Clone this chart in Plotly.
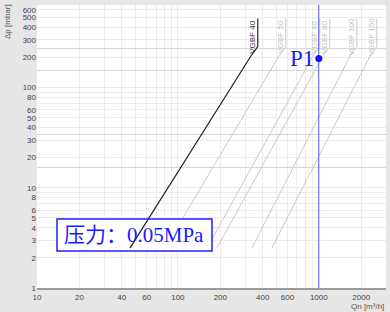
import math
import plotly.graph_objects as go

# ---- data ----
x_grid = [10, 20, 30, 40, 50, 60, 70, 80, 90, 100, 200, 300, 400, 500, 600, 700, 800, 900, 1000, 2000, 3000]
x_labels = [10, 20, 40, 60, 100, 200, 400, 600, 1000, 2000]
y_grid = [1, 2, 3, 4, 5, 6, 7, 8, 9, 10, 20, 30, 40, 50, 60, 70, 80, 90, 100, 200, 300, 400, 500, 600]
y_labels = [1, 2, 3, 4, 5, 6, 8, 10, 20, 30, 40, 50, 60, 80, 100, 200, 300, 400, 500, 600]
extra_h_lines = [245, 148, 34, 16]

models = ["VGBF 50", "VGBF 65", "VGBF 80", "VGBF 100", "VGBF 150", "VGBF 40"]
curve_q = [
    [81, 529, 583, 583],
    [161, 922, 1016, 1016],
    [189, 1085, 1197, 1197],
    [335, 1688, 1862, 1862],
    [464, 2339, 2577, 2577],
    [45.7, 335, 369, 369],
]
curve_dp = [2.5, 214, 257, 490]
label_dp = 320

p1_q = 1000
p1_dp = 195
box_text = "压力：0.05MPa"

X_RANGE = [1, math.log10(3000)]
Y_RANGE = [0, 2.825]
BOX = dict(x0=0.0573, x1=0.5014, y0=0.1307, y1=0.2438)  # paper fractions


def paper2data(fx, fy):
    return (10 ** (X_RANGE[0] + fx * (X_RANGE[1] - X_RANGE[0])),
            10 ** (Y_RANGE[0] + fy * (Y_RANGE[1] - Y_RANGE[0])))


# ---- figure ----
fig = go.Figure()

for v in extra_h_lines:
    fig.add_trace(go.Scatter(x=[10, 3000], y=[v, v], mode="lines",
                             line=dict(color="#d2d2d2", width=1),
                             hoverinfo="skip", showlegend=False))


def add_curve(name, q):
    black = name == "VGBF 40"
    fig.add_trace(go.Scatter(x=q, y=curve_dp, mode="lines",
                             line=dict(color="#222222" if black else "#cacaca",
                                       width=1.2 if black else 1),
                             showlegend=False, name=name))
    fig.add_annotation(x=math.log10(q[-1]), y=math.log10(label_dp), xref="x", yref="y",
                       text=name, textangle=-90, showarrow=False, xshift=-6,
                       xanchor="center", yanchor="middle",
                       font=dict(family="Liberation Sans, Arial", size=8,
                                 color="#333333" if black else "#c4c4c4"))


# grey size curves (drawn beneath the pressure box)
for name, q in zip(models, curve_q):
    if name != "VGBF 40":
        add_curve(name, q)

# white background of the pressure box
bx0, by0 = paper2data(BOX["x0"], BOX["y0"])
bx1, by1 = paper2data(BOX["x1"], BOX["y1"])
fig.add_trace(go.Scatter(x=[bx0, bx1, bx1, bx0, bx0], y=[by0, by0, by1, by1, by0], mode="lines",
                         fill="toself", fillcolor="white", line=dict(width=0, color="white"),
                         hoverinfo="skip", showlegend=False))

# selected size curve on top
for name, q in zip(models, curve_q):
    if name == "VGBF 40":
        add_curve(name, q)

# vertical operating line at Qn = 1000
fig.add_trace(go.Scatter(x=[p1_q, p1_q], y=[1, 700], mode="lines",
                         line=dict(color="#5a5ae6", width=1), showlegend=False))
fig.add_trace(go.Scatter(x=[p1_q], y=[p1_dp], mode="markers",
                         marker=dict(color="#1010ff", size=7), showlegend=False))
fig.add_annotation(x=math.log10(p1_q), y=math.log10(p1_dp), text="P1", showarrow=False,
                   xanchor="right", yanchor="middle", xshift=-3,
                   font=dict(family="Liberation Serif, Times New Roman", size=23, color="#1a1aff"))

# pressure box border + text
fig.add_shape(type="rect", xref="paper", yref="paper", **BOX,
              line=dict(color="#2020ff", width=1.5), fillcolor="rgba(0,0,0,0)", layer="above")
fig.add_annotation(x=(BOX["x0"] + BOX["x1"]) / 2, y=(BOX["y0"] + BOX["y1"]) / 2,
                   xref="paper", yref="paper", text=box_text, showarrow=False,
                   xanchor="center", yanchor="middle",
                   font=dict(family="Liberation Serif, Noto Sans CJK SC", size=21, color="#1a1aff"))

# axis titles
fig.add_annotation(x=-0.083, y=0.94, xref="paper", yref="paper", text="Δp [mbar]", textangle=-90,
                   xanchor="center", yanchor="middle",
                   showarrow=False, font=dict(family="Liberation Sans, Arial", size=8, color="#555555"))
fig.add_annotation(x=1.0, y=-0.067, xref="paper", yref="paper", text="Qn [m³/h]",
                   xanchor="right", yanchor="middle",
                   showarrow=False, font=dict(family="Liberation Sans, Arial", size=8, color="#555555"))

fig.update_xaxes(type="log", range=X_RANGE,
                 tickvals=x_grid, ticktext=[str(v) if v in x_labels else "" for v in x_grid],
                 showgrid=True, gridcolor="#ececec", gridwidth=1, zeroline=False,
                 showline=True, linecolor="#9a9a9a", linewidth=2, ticks="",
                 tickfont=dict(family="Liberation Sans, Arial", size=8, color="#444444"))
fig.update_yaxes(type="log", range=Y_RANGE,
                 tickvals=y_grid, ticktext=[str(v) if v in y_labels else "" for v in y_grid],
                 showgrid=True, gridcolor="#ececec", gridwidth=1, zeroline=False,
                 showline=False, ticks="",
                 tickfont=dict(family="Liberation Sans, Arial", size=8, color="#444444"))

fig.update_layout(width=390, height=312, margin=dict(l=37, r=4, t=5, b=24),
                  paper_bgcolor="#e6e6e6", plot_bgcolor="white", showlegend=False)

fig.write_html("out.html")
